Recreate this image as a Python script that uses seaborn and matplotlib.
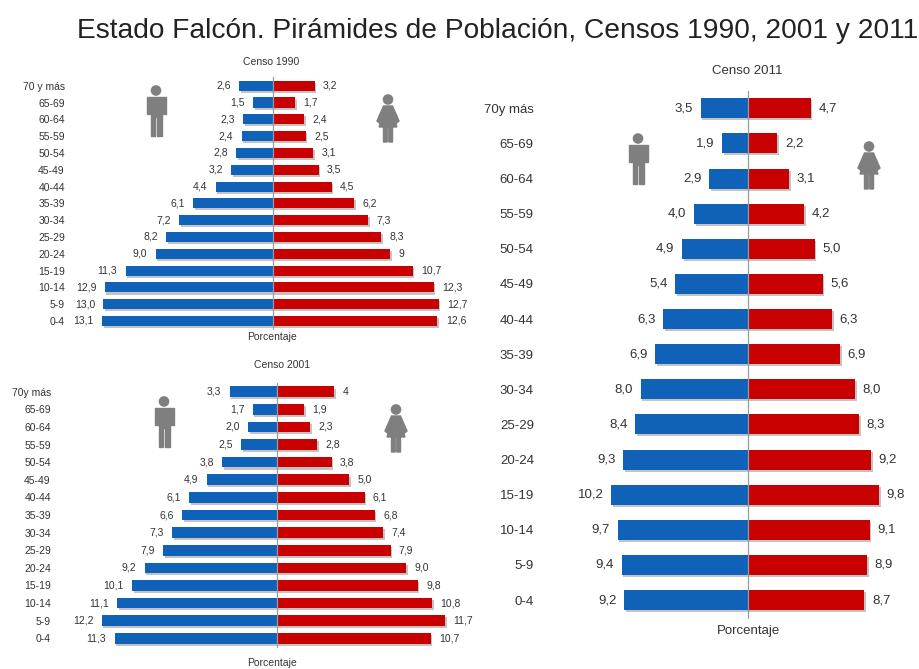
import matplotlib
matplotlib.use("Agg")
import matplotlib.pyplot as plt
import matplotlib.patheffects as pe
from matplotlib.patches import Circle, Polygon
from matplotlib.transforms import Affine2D
import pandas as pd
import seaborn as sns

sns.set_style("white")
plt.rcParams["font.family"] = ["Liberation Sans", "DejaVu Sans"]

W, H = 919, 669
TITLE = "Estado Falcón. Pirámides de Población, Censos 1990, 2001 y 2011"
AGES_1990 = ["70 y más", "65-69", "60-64", "55-59", "50-54", "45-49", "40-44", "35-39",
             "30-34", "25-29", "20-24", "15-19", "10-14", "5-9", "0-4"]
AGES = ["70y más"] + AGES_1990[1:]

men_1990 = [2.6, 1.5, 2.3, 2.4, 2.8, 3.2, 4.4, 6.1, 7.2, 8.2, 9.0, 11.3, 12.9, 13.0, 13.1]
women_1990 = [3.2, 1.7, 2.4, 2.5, 3.1, 3.5, 4.5, 6.2, 7.3, 8.3, 9, 10.7, 12.3, 12.7, 12.6]
men_2001 = [3.3, 1.7, 2.0, 2.5, 3.8, 4.9, 6.1, 6.6, 7.3, 7.9, 9.2, 10.1, 11.1, 12.2, 11.3]
women_2001 = [4, 1.9, 2.3, 2.8, 3.8, 5.0, 6.1, 6.8, 7.4, 7.9, 9.0, 9.8, 10.8, 11.7, 10.7]
men_2011 = [3.5, 1.9, 2.9, 4.0, 4.9, 5.4, 6.3, 6.9, 8.0, 8.4, 9.3, 10.2, 9.7, 9.4, 9.2]
women_2011 = [4.7, 2.2, 3.1, 4.2, 5.0, 5.6, 6.3, 6.9, 8.0, 8.3, 9.2, 9.8, 9.1, 8.9, 8.7]

BLUE, RED, GREY, TEXT = "#0F62B8", "#C80000", "#7F7F7F", "#333333"
fig = plt.figure(figsize=(W / 100, H / 100), dpi=100, facecolor="white")
to_px = Affine2D().scale(1, -1).translate(0, H)  # pixel coordinates, y down


def lab(v):
    return str(v).replace(".", ",")


def pyramid(title, ages, men, women, left, right, top, bottom, centre, scale,
            bar, fs, tick_fs, pad, title_xy, xlabel_xy, line):
    ax = fig.add_axes([left / W, 1 - bottom / H, (right - left) / W, (bottom - top) / H])
    ax.patch.set_alpha(0)
    df = pd.concat([
        pd.DataFrame({"edad": ages, "sexo": "Hombres", "pct": [-v for v in men]}),
        pd.DataFrame({"edad": ages, "sexo": "Mujeres", "pct": list(women)}),
    ])
    sns.barplot(data=df, y="edad", x="pct", hue="sexo", order=ages, dodge=False,
                palette={"Hombres": BLUE, "Mujeres": RED}, width=bar,
                legend=False, ax=ax, orient="h", saturation=1)
    shadow = [pe.SimplePatchShadow(offset=(1.2, -1.5), shadow_rgbFace="#555555", alpha=0.35), pe.Normal()]
    for cont, vals in zip(ax.containers, (men, women)):
        for p in cont:
            p.set_path_effects(shadow)
            p.set_linewidth(0)
        ax.bar_label(cont, labels=[lab(v) for v in vals], padding=pad,
                     fontsize=fs, color=TEXT)
    ax.set_xlim((left - centre) / scale, (right - centre) / scale)
    ax.set_ylim(len(ages) - 0.5, -0.5)
    ax.set_xlabel("")
    ax.set_ylabel("")
    ax.set_xticks([])
    ax.tick_params(axis="y", length=0, pad=3, labelsize=tick_fs, labelcolor=TEXT)
    ax.plot([0, 0], [line[0], line[1]], color="#9A9AA5", lw=0.9, zorder=5, clip_on=False)
    sns.despine(ax=ax, left=True, bottom=True)
    for txt, (x, y) in ((title, title_xy), ("Porcentaje", xlabel_xy)):
        fig.text(x / W, 1 - y / H, txt, ha="center", va="center", fontsize=tick_fs, color=TEXT)
    return ax


def man(cx, top, h):
    s = h / 50
    tr = Affine2D().scale(s).translate(cx, top) + to_px
    fig.add_artist(Circle((0, 4.5), 4.6, color=GREY, transform=tr))
    fig.add_artist(Polygon([(-9.5, 11), (9.5, 11), (9.5, 28), (6.5, 28), (6.5, 16), (5.5, 16),
                            (5.5, 50), (0.8, 50), (0.8, 31), (-0.8, 31), (-0.8, 50), (-5.5, 50),
                            (-5.5, 16), (-6.5, 16), (-6.5, 28), (-9.5, 28)],
                           color=GREY, transform=tr))


def woman(cx, top, h):
    s = h / 47
    tr = Affine2D().scale(s).translate(cx, top) + to_px
    fig.add_artist(Circle((0, 4.5), 4.6, color=GREY, transform=tr))
    fig.add_artist(Polygon([(-4.5, 11), (4.5, 11), (11, 26), (8.5, 28), (6, 23), (9, 32),
                            (4.5, 32), (4.5, 47), (0.8, 47), (0.8, 32), (-0.8, 32), (-0.8, 47),
                            (-4.5, 47), (-4.5, 32), (-9, 32), (-6, 23), (-8.5, 28), (-11, 26)],
                           color=GREY, transform=tr))


pyramid("Censo 1990", AGES_1990, men_1990, women_1990, 69, 470, 77.3, 329.4, 273, 13.05,
        0.6, 7.5, 7.5, 6, (271, 62), (272, 337), (-0.5, 14.5))
pyramid("Censo 2001", AGES, men_2001, women_2001, 55, 470, 382.9, 647.1, 277, 14.37,
        0.6, 7.5, 7.5, 6, (282, 365), (272, 663), (-0.5, 14.5))
pyramid("Censo 2011", AGES, men_2011, women_2011, 538, 905, 90.7, 617.6, 747.7, 13.4,
        0.57, 9.5, 9.5, 5.5, (747, 71), (748, 631), (-0.5, 14.5))

for cx, top in ((156, 86), (164, 397), (638, 134)):
    man(cx, top, 50)
for cx, top in ((388, 95), (396, 405), (869, 142)):
    woman(cx, top, 47)

fig.text(497.5 / W, 1 - 31 / H, TITLE, ha="center", va="center", fontsize=20.25, color="#222222")
fig.savefig("out.png", dpi=100, facecolor="white")
